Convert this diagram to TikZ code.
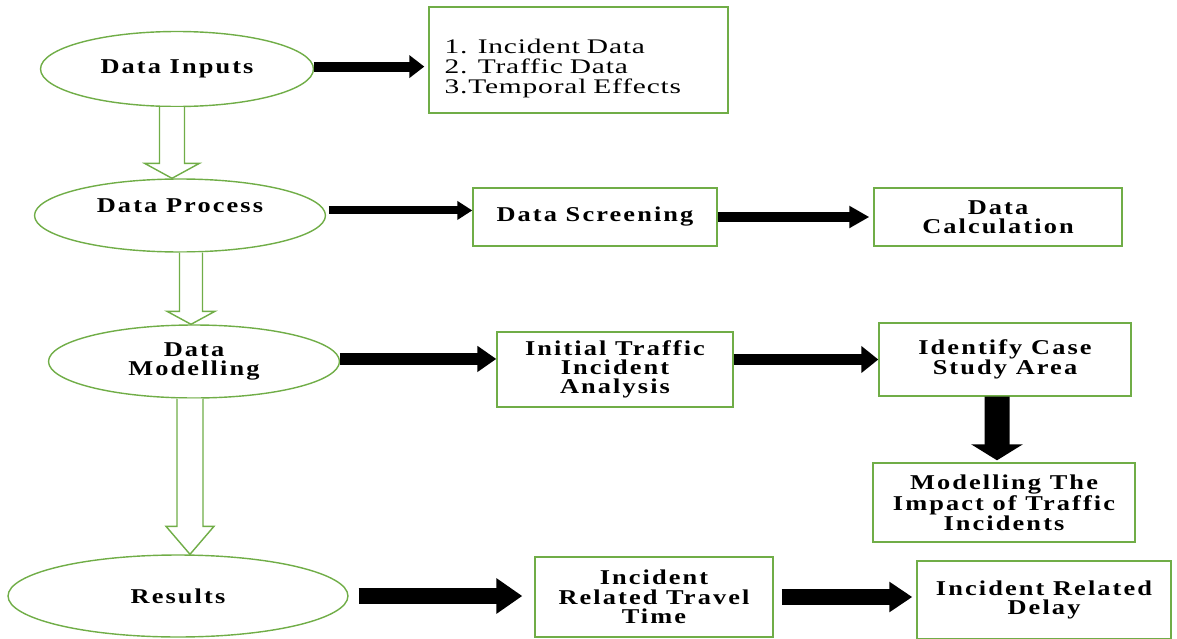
\documentclass[tikz,border=0pt]{standalone}
\usepackage{fontspec}
\setmainfont{Liberation Serif}[FakeStretch=1.25,LetterSpace=10]
\newfontfamily\listfamily{Liberation Serif}[FakeStretch=1.42,LetterSpace=4]
\usetikzlibrary{
	arrows.meta,
	calc,
	positioning,
	shapes.geometric,
}
\definecolor{leaf}{HTML}{70AD47}
\newcommand{\stagefont}{\fontsize{12}{11}\selectfont\bfseries}
\newcommand{\listfont}{\listfamily\fontsize{11.8}{11.2}\selectfont}
\tikzset{
	stage/.style={
		draw=leaf,
		ellipse,
		line width=0.8pt,
		inner sep=0pt,
		align=center,
		font=\stagefont,
	},
	task/.style={
		draw=leaf,
		rectangle,
		line width=0.8pt,
		inner sep=0pt,
		align=center,
		font=\stagefont,
	},
	push/.style n args={3}{
		line width=#1,
		-{Triangle[length=#2,width=#3]},
	},
	hollow/.style={
		draw=leaf,
		fill=white,
		line width=0.8pt,
		line join=miter,
	},
}
% open green arrow: start, tip, shaft half width, head half width, head length
\newcommand{\hollowarrow}[5]{
	\draw[hollow] let \p1=#1, \p2=#2 in
		(\x1-#3,\y1) -- (\x1-#3,\y2+#5) -- (\x1-#4,\y2+#5) -- (\x1,\y2)
		-- (\x1+#4,\y2+#5) -- (\x1+#3,\y2+#5) -- (\x1+#3,\y1);
}

\begin{document}
\begin{tikzpicture}[x=0.02cm,y=-0.02cm]
\useasboundingbox (0,0) rectangle (1177,639);

% stages on the left
\node[stage, minimum width=5.46cm, minimum height=1.5cm] (inputs) at (177,69) {Data Inputs};
\node[stage, minimum width=5.82cm, minimum height=1.46cm, text height=8pt, text depth=11.5pt] (process) at (180,215.5) {Data Process};
\node[stage, minimum width=5.82cm, minimum height=1.46cm] (modelling) at (194,361.5) {Data\\Modelling};
\node[stage, minimum width=6.8cm, minimum height=1.64cm] (results) at (178,596) {Results};

% steps
\node[task, minimum width=5.98cm, minimum height=2.12cm, font=\listfont, text width=5.36cm, align=left] (sources) at (578.5,60)
	{\rule{0pt}{17.8pt}1. Incident Data\\2. Traffic Data\\3.Temporal Effects};
\node[task, minimum width=4.88cm, minimum height=1.16cm] (screening) at (595,217) {Data Screening};
\node[task, minimum width=4.96cm, minimum height=1.16cm] (calculation) at (998,217) {Data\\Calculation};
\node[task, minimum width=4.72cm, minimum height=1.5cm] (initial) at (615,369.5) {Initial Traffic\\Incident\\Analysis};
\node[task, minimum width=5.04cm, minimum height=1.46cm] (casearea) at (1005,359.5) {Identify Case\\Study Area};
\node[task, minimum width=5.24cm, minimum height=1.58cm] (impact) at (1004,502.5) {Modelling The\\Impact of Traffic\\Incidents};
\node[task, minimum width=4.76cm, minimum height=1.6cm] (traveltime) at (654,597) {Incident\\Related Travel\\Time};
\node[task, minimum width=5.08cm, minimum height=1.56cm] (delay) at (1044,600) {Incident Related\\Delay};

% black arrows
\draw[push={2mm}{3mm}{4.4mm}, shorten >=0.8mm] (inputs.1) -- (inputs.1 -| sources.west);
\draw[push={1.6mm}{3mm}{3.6mm}, shorten <=0.8mm] (process.2) -- (process.2 -| screening.west);
\draw[push={2mm}{4mm}{4.2mm}, shorten >=0.8mm] (screening.east) -- (calculation.west);
\draw[push={2.4mm}{3.8mm}{5mm}] (modelling.1) -- (modelling.1 -| initial.west);
\draw[push={2.2mm}{3.4mm}{5.2mm}] (initial.east |- casearea.west) -- (casearea.west);
\draw[push={5mm}{3.2mm}{10.2mm}, shorten >=0.4mm] ([xshift=-1.6mm]casearea.south) -- ([xshift=-1.4mm]impact.north);
\draw[push={3.2mm}{5.2mm}{6.8mm}, shorten <=2mm, shorten >=2.4mm] (results.east) -- (results.east -| traveltime.west);
\draw[push={3.2mm}{4.6mm}{5.8mm}, shorten <=1.6mm, shorten >=0.8mm] (traveltime.east) -- (traveltime.east -| delay.west);

% open arrows between the stages
\hollowarrow{([xshift=-1mm]inputs.south)}{(process.north)}{2.5mm}{5.5mm}{3mm}
\hollowarrow{([xshift=2.2mm]process.south)}{(modelling.north)}{2.3mm}{4.8mm}{2.6mm}
\hollowarrow{([xshift=-0.8mm]modelling.south)}{(results.north)}{2.6mm}{4.8mm}{5.6mm}
\end{tikzpicture}
\end{document}
